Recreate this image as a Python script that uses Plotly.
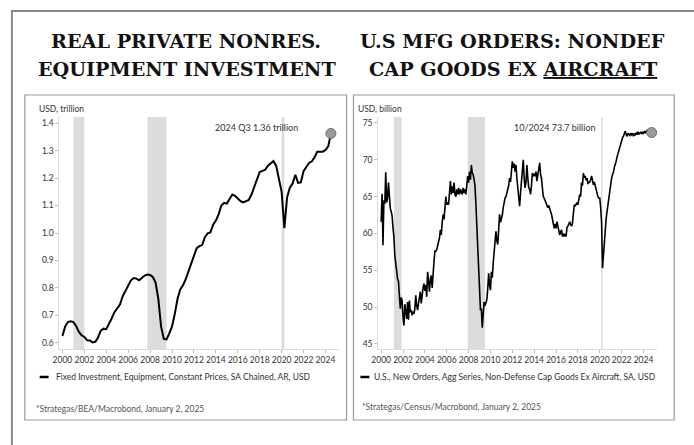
import plotly.graph_objects as go

W, H = 694, 445

# Real private nonres. equipment investment, quarterly 2000Q1-2024Q3, USD trillion
equip_start = 2000
equip_vals = [
    0.625, 0.660, 0.676, 0.679,
    0.676, 0.662, 0.640, 0.628,
    0.622, 0.610, 0.609, 0.602,
    0.604, 0.620, 0.645, 0.652,
    0.650, 0.668, 0.690, 0.712,
    0.728, 0.740, 0.770, 0.788,
    0.810, 0.828, 0.836, 0.834,
    0.828, 0.838, 0.845, 0.849,
    0.847, 0.840, 0.820, 0.760,
    0.660, 0.615, 0.613, 0.635,
    0.660, 0.705, 0.760, 0.795,
    0.810, 0.832, 0.860, 0.895,
    0.915, 0.945, 0.952, 0.956,
    0.985, 0.999, 1.002, 1.030,
    1.045, 1.068, 1.100, 1.110,
    1.107, 1.125, 1.140, 1.135,
    1.125, 1.116, 1.111, 1.117,
    1.120, 1.140, 1.165, 1.195,
    1.222, 1.226, 1.230, 1.245,
    1.255, 1.262, 1.245, 1.200,
    1.150, 1.018, 1.130, 1.165,
    1.180, 1.212, 1.182, 1.184,
    1.225, 1.240, 1.255, 1.260,
    1.275, 1.296, 1.296, 1.296,
    1.302, 1.315, 1.362,
]

# Nondefense capital goods ex aircraft new orders, monthly 2000-01 to 2024-10, USD billion
orders_start = 2000
orders_vals = [
    61.6, 65.4, 58.4, 64.5, 64.0, 68.3, 64.2, 64.8, 66.9, 64.0, 63.4, 63.0,
    62.4, 60.8, 59.5, 57.0, 55.5, 54.9, 53.8, 53.5, 51.6, 49.8, 51.3, 50.9,
    48.6, 47.5, 50.4, 49.0, 48.4, 50.7, 48.3, 50.9, 49.3, 49.6, 48.9, 49.4,
    49.1, 49.8, 51.6, 50.2, 49.6, 50.5, 51.8, 52.1, 50.5, 51.9, 52.6, 53.2,
    52.2, 53.0, 51.4, 54.8, 53.6, 52.1, 53.8, 54.3, 52.6, 55.6, 56.2, 57.6,
    57.6, 57.8, 58.3, 58.9, 59.4, 60.5, 59.8, 61.5, 62.6, 61.9, 63.0, 65.0,
    63.9, 64.2, 63.9, 65.1, 67.1, 65.3, 66.4, 65.5, 66.9, 65.3, 65.0, 66.0,
    65.3, 66.2, 65.3, 66.0, 65.6, 65.3, 66.2, 65.5, 66.0, 65.3, 66.5, 67.8,
    66.9, 68.4, 67.3, 69.3, 68.2, 68.0, 67.3, 66.5, 64.0, 60.7, 57.5, 54.0,
    52.5, 49.6, 49.8, 47.2, 49.0, 50.7, 50.2, 50.5, 51.0, 52.5, 54.6, 53.0,
    52.3, 54.8, 54.0, 56.0, 57.6, 58.5, 60.3, 59.0, 58.5, 60.5, 62.6, 61.5,
    61.9, 62.5, 63.5, 64.2, 64.8, 65.0, 65.7, 66.0, 66.5, 67.5, 67.0, 68.5,
    69.8, 68.9, 69.5, 68.4, 69.3, 67.5, 66.2, 65.0, 63.7, 65.5, 66.9, 68.0,
    70.0, 67.5, 66.2, 67.0, 69.3, 67.5, 66.2, 66.0, 65.3, 66.5, 68.2, 67.8,
    68.0, 67.8, 68.4, 67.1, 68.0, 68.5, 69.6, 68.0, 67.5, 66.2, 65.0, 64.8,
    64.4, 64.0, 63.7, 63.5, 63.8, 63.5, 63.0, 62.6, 62.0, 61.4, 60.7, 61.3,
    60.7, 61.6, 60.8, 60.5, 59.8, 60.2, 60.5, 59.6, 60.0, 59.6, 59.8, 59.6,
    60.8, 61.0, 61.3, 61.6, 61.2, 61.0, 61.4, 62.8, 63.9, 63.7, 63.9, 64.2,
    63.9, 64.5, 65.3, 65.0, 66.9, 66.5, 68.2, 67.6, 67.8, 67.2, 67.5, 66.8,
    66.9, 67.0, 67.3, 67.8, 67.2, 66.6, 67.0, 66.4, 66.0, 65.4, 65.0, 64.8,
    64.8, 63.5, 61.5, 55.3, 57.1, 59.0, 61.2, 62.0, 63.0, 64.0, 65.2, 66.2,
    66.6, 67.5, 68.0, 68.3, 69.0, 69.3, 69.8, 70.4, 70.9, 71.4, 71.8, 72.1,
    72.5, 73.0, 73.2, 73.5, 73.9, 73.4, 73.2, 73.6, 73.5, 73.3, 73.6, 73.4,
    73.6, 73.2, 73.5, 73.4, 73.7, 73.4, 73.8, 73.5, 73.6, 73.8, 73.5, 73.7,
    73.6, 73.9, 73.7, 73.8, 74.0, 73.7, 73.9, 74.0, 73.8, 73.7,
]

# recession shading (decimal years)
recess_left = [(2001.0, 2002.0), (2007.75, 2009.5), (2020.0, 2020.25)]
recess_right = [(2001.17, 2001.87), (2007.92, 2009.5), (2020.12, 2020.25)]

year_ticks = list(range(2000, 2025, 2))
left_yticks = [0.6, 0.7, 0.8, 0.9, 1.0, 1.1, 1.2, 1.3, 1.4]
right_yticks = [45, 50, 55, 60, 65, 70, 75]

equip_x = [equip_start + i / 4 for i in range(len(equip_vals))]
orders_x = [orders_start + i / 12 for i in range(len(orders_vals))]

SANS = "Lato"
SERIF = "DejaVu Serif"
TXT = "#333333"


def px(x):
    return x / W


def py(y):
    return 1 - y / H


fig = go.Figure()

fig.add_trace(go.Scatter(x=equip_x, y=equip_vals, mode="lines",
                         line=dict(color="black", width=2), xaxis="x", yaxis="y"))
fig.add_trace(go.Scatter(x=equip_x[-1:], y=equip_vals[-1:], mode="markers",
                         marker=dict(size=10, color="#9a9a9a", line=dict(color="#6e6e6e", width=1)),
                         xaxis="x", yaxis="y"))
fig.add_trace(go.Scatter(x=orders_x, y=orders_vals, mode="lines",
                         line=dict(color="black", width=1.6), xaxis="x2", yaxis="y2"))
fig.add_trace(go.Scatter(x=orders_x[-1:], y=orders_vals[-1:], mode="markers",
                         marker=dict(size=10, color="#9a9a9a", line=dict(color="#6e6e6e", width=1)),
                         xaxis="x2", yaxis="y2"))

ax_common = dict(showgrid=False, zeroline=False, showline=True, linecolor="#dcdcdc",
                 linewidth=1, ticks="outside", ticklen=3, tickcolor="#bdbdbd", tickangle=0,
                 tickfont=dict(family=SANS, size=8.5, color=TXT))

fig.update_layout(
    width=W, height=H,
    margin=dict(l=0, r=0, t=0, b=0),
    paper_bgcolor="white", plot_bgcolor="white",
    showlegend=False,
    xaxis=dict(domain=[px(53), px(335)], range=[1999.73, 2025.2],
               tickvals=year_ticks, anchor="y", **ax_common),
    yaxis=dict(domain=[py(349), py(117)], range=[0.578, 1.422],
               tickvals=left_yticks, tickformat=".1f", anchor="x", **ax_common),
    xaxis2=dict(domain=[px(375), px(657)], range=[1999.73, 2025.27],
                tickvals=year_ticks, anchor="y2", **ax_common),
    yaxis2=dict(domain=[py(349), py(117)], range=[44.32, 75.81],
                tickvals=right_yticks, anchor="x2", **ax_common),
)

shapes = []
for x0, x1 in recess_left:
    shapes.append(dict(type="rect", xref="x", yref="y domain", x0=x0, x1=x1, y0=0, y1=1,
                       fillcolor="#dcdcdc", line=dict(width=0), layer="below"))
for x0, x1 in recess_right:
    shapes.append(dict(type="rect", xref="x2", yref="y2 domain", x0=x0, x1=x1, y0=0, y1=1,
                       fillcolor="#dcdcdc", line=dict(width=0), layer="below"))

# outer frame and panel frames
shapes.append(dict(type="rect", xref="paper", yref="paper", x0=px(5), x1=px(720),
                   y0=py(470), y1=py(11), line=dict(color="#8a8a8a", width=2)))
for x0, x1 in [(18, 343), (350, 674)]:
    shapes.append(dict(type="rect", xref="paper", yref="paper", x0=px(x0), x1=px(x1),
                       y0=py(420), y1=py(95), line=dict(color="#9a9a9a", width=1.2)))
# legend line samples
for x0 in [33, 357]:
    shapes.append(dict(type="line", xref="paper", yref="paper", x0=px(x0), x1=px(x0 + 9),
                       y0=py(377), y1=py(377), line=dict(color="black", width=2.5)))
fig.update_layout(shapes=shapes)


def note(x, y, text, size=8.5, anchor="left", family=SANS, color=TXT):
    fig.add_annotation(x=px(x), y=py(y), xref="paper", yref="paper", text=text,
                       showarrow=False, xanchor=anchor, yanchor="middle",
                       font=dict(family=family, size=size, color=color))


# titles
for x, y, t in [(181, 42, "<b>REAL PRIVATE NONRES.</b>"),
                (182, 70, "<b>EQUIPMENT INVESTMENT</b>"),
                (511, 42, "<b>U.S MFG ORDERS: NONDEF</b>"),
                (512, 70, "<b>CAP GOODS EX <u>AIRCRAFT</u></b>")]:
    fig.add_annotation(x=px(x), y=py(y), xref="paper", yref="paper", text=t,
                       showarrow=False, xanchor="center", yanchor="middle",
                       font=dict(family=SERIF, size=19.2, color="#111"))

note(30, 109, "USD, trillion")
note(353, 109, "USD, billion")
note(252, 127, "2024 Q3 1.36 trillion", size=9, anchor="center")
note(554, 127, "10/2024 73.7 billion", size=9, anchor="center")
note(47, 377, "Fixed Investment, Equipment, Constant Prices, SA Chained, AR, USD")
note(369, 377, "U.S., New Orders, Agg Series, Non-Defense Cap Goods Ex Aircraft, SA, USD")
note(27, 409, "*Strategas/BEA/Macrobond, January 2, 2025", color="#555")
note(357, 407, "*Strategas/Census/Macrobond, January 2, 2025", color="#555")

fig.write_html("out.html", config={"displayModeBar": False},
               post_script="document.body.style.margin='0';")
